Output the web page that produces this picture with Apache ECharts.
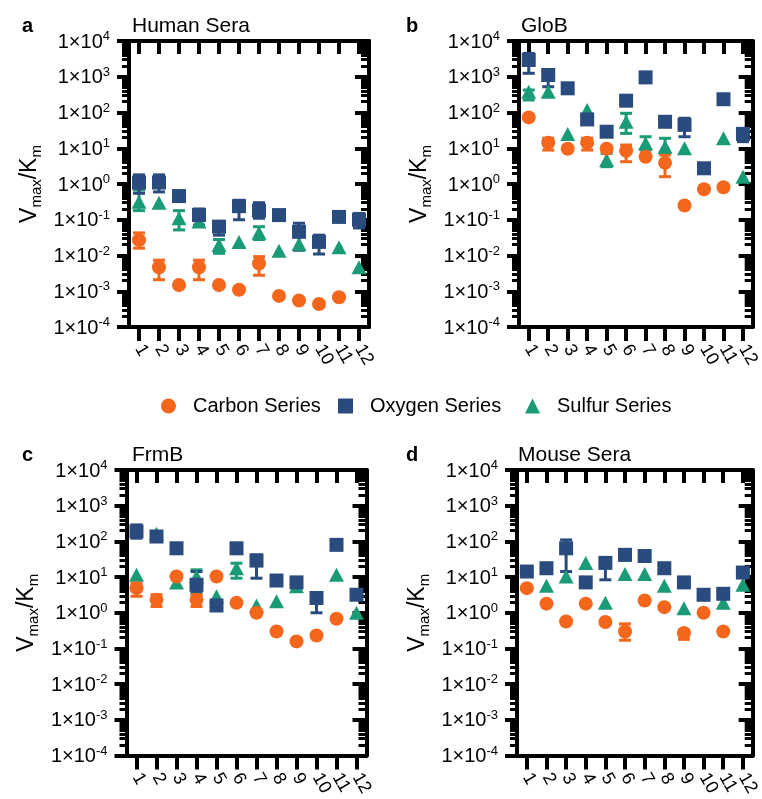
<!DOCTYPE html>
<html>
<head>
<meta charset="utf-8">
<script src="https://cdn.jsdelivr.net/npm/echarts@6/dist/echarts.min.js"></script>
<style>html,body{margin:0;padding:0;background:#fff}#c{width:762px;height:799px}</style>
</head>
<body>
<div id="c"></div>
<script>
// ---------------- DATA ----------------
const categories = [1, 2, 3, 4, 5, 6, 7, 8, 9, 10, 11, 12];
const xTickLabels = ['1', '2', '3', '4', '5', '6', '7', '8', '9', '10', '11', '12'];
const yExponents = [-4, -3, -2, -1, 0, 1, 2, 3, 4];
const seriesNames = ['Carbon Series', 'Oxygen Series', 'Sulfur Series'];
const panelLetters = ['a', 'b', 'c', 'd'];
const panelTitles = ['Human Sera', 'GloB', 'FrmB', 'Mouse Sera'];

// Human Sera
const humanCarbon = [0.027, 0.0047, 0.0015, 0.0047, 0.0015, 0.0011, 0.006, 0.00074, 0.00055, 0.00044, 0.00068, null];
const humanOxygen = [1.1, 1.1, 0.46, 0.135, 0.064, 0.24, 0.18, 0.135, 0.046, 0.024, 0.12, 0.1];
const humanSulfur = [0.32, 0.30, 0.11, 0.089, 0.0196, 0.024, 0.043, 0.0136, 0.021, null, 0.017, 0.0047];
const humanCarbonErr = [[1, 0.016, 0.043], [2, 0.0021, 0.0074], [4, 0.0021, 0.0074], [7, 0.0028, 0.0093]];
const humanOxygenErr = [[1, 0.55, 1.8], [2, 0.6, 1.8], [4, 0.071, 0.2], [5, 0.037, 0.09], [6, 0.1, 0.35], [7, 0.11, 0.3], [9, 0.014, 0.08], [10, 0.011, 0.037], [12, 0.059, 0.15]];
const humanSulfurErr = [[1, 0.18, 0.68], [3, 0.052, 0.18], [5, 0.0115, 0.028], [7, 0.028, 0.064]];

// GloB
const globCarbon = [73, 14.3, 9.7, 14.3, 9.7, 8.5, 5.8, 3.9, 0.25, 0.71, 0.81, null];
const globOxygen = [2950, 1120, 475, 64, 29, 214, 960, 55, 45, 2.75, 235, 25];
const globSulfur = [380, 380, 25, 117, 4.7, 55, 13.8, 11, 10, null, 19, 1.6];
const globCarbonErr = [[2, 8.9, 19], [4, 8.9, 19], [6, 4.2, 12.3], [8, 1.6, 6.5]];
const globOxygenErr = [[1, 1250, 4500], [2, 525, 1550], [9, 21, 69], [12, 15.3, 36]];
const globSulfurErr = [[1, 224, 426], [5, 3.05, 7.2], [6, 26, 95], [7, 8.9, 21], [8, 7.2, 19]];

// FrmB
const frmbCarbon = [4.9, 2.3, 10.4, 2.3, 10.4, 1.9, 1.0, 0.30, 0.158, 0.23, 0.68, null];
const frmbOxygen = [190, 137, 64, 6.1, 1.6, 64, 29, 8.0, 7.1, 2.6, 80, 3.2];
const frmbSulfur = [11.6, 165, 7.1, 10.4, 2.9, 17.7, 1.6, 2.1, 5.5, null, 11.6, 1.0];
const frmbCarbonErr = [[1, 2.9, 6.7], [2, 1.5, 3.2], [4, 1.5, 3.2]];
const frmbOxygenErr = [[1, 123, 290], [4, 4.0, 14.3], [7, 9.3, 42], [10, 1.0, 3.5]];
const frmbSulfurErr = [[4, 3.5, 16], [6, 9.3, 24.5]];

// Mouse Sera
const mouseCarbon = [4.9, 1.8, 0.57, 1.8, 0.55, 0.30, 2.2, 1.44, 0.27, 1.0, 0.30, null];
const mouseOxygen = [14.3, 17.7, 64, 7.1, 25, 42, 39, 17.7, 7.1, 3.2, 3.4, 13.4];
const mouseSulfur = [null, 5.7, 10.4, 25, 1.9, 12.3, 12.3, 5.7, 1.35, null, 1.9, 6.1];
const mouseCarbonErr = [[6, 0.17, 0.49], [9, 0.18, 0.33]];
const mouseOxygenErr = [[3, 14.3, 110], [5, 8.4, 34], [6, 30, 48], [7, 28, 45]];
const mouseSulfurErr = [];

// ---------------- STYLE / LAYOUT ----------------
const FONT = '"Liberation Sans", Arial, Helvetica, sans-serif';
const COLORS = ['#f3661c', '#294b7d', '#1a9b77'];
const SYMBOLS = ['circle', 'rect', 'triangle'];
const SYMBOL_SIZES = [14, 14, [15, 14]];
const gridBoxes = [[129, 41], [519, 41], [126.5, 470], [517, 470]];
const GRID_W = 240, GRID_H = 286;
const titleBoxes = [[17, 11, 127], [401, 11, 516], [17, 440, 127], [401, 440, 513]];

const panels = [
  { c: humanCarbon, o: humanOxygen, s: humanSulfur, ce: humanCarbonErr, oe: humanOxygenErr, se: humanSulfurErr },
  { c: globCarbon, o: globOxygen, s: globSulfur, ce: globCarbonErr, oe: globOxygenErr, se: globSulfurErr },
  { c: frmbCarbon, o: frmbOxygen, s: frmbSulfur, ce: frmbCarbonErr, oe: frmbOxygenErr, se: frmbSulfurErr },
  { c: mouseCarbon, o: mouseOxygen, s: mouseSulfur, ce: mouseCarbonErr, oe: mouseOxygenErr, se: mouseSulfurErr }
];

const minorExp = [];
for (let e = yExponents[0]; e < yExponents[yExponents.length - 1]; e++) {
  for (let m = 2; m <= 9; m++) minorExp.push(e + Math.log10(m));
}

function toPoints(vals) {
  const out = [];
  vals.forEach((v, k) => { if (v != null) out.push([xTickLabels[k], v]); });
  return out;
}
function toErr(errs) {
  return errs.map(e => [xTickLabels[categories.indexOf(e[0])], e[1], e[2]]);
}

function errRenderer(color) {
  return function (params, api) {
    const x = api.value(0), lo = api.value(1), hi = api.value(2);
    const p1 = api.coord([x, lo]);
    const p2 = api.coord([x, hi]);
    const hw = 6;
    const st = { stroke: color, lineWidth: 3 };
    return {
      type: 'group',
      children: [
        { type: 'line', shape: { x1: p1[0], y1: p1[1], x2: p2[0], y2: p2[1] }, style: st },
        { type: 'line', shape: { x1: p1[0] - hw, y1: p1[1], x2: p1[0] + hw, y2: p1[1] }, style: st },
        { type: 'line', shape: { x1: p2[0] - hw, y1: p2[1], x2: p2[0] + hw, y2: p2[1] }, style: st }
      ]
    };
  };
}

const grid = [], xAxis = [], yAxis = [], series = [], title = [];

panels.forEach((p, i) => {
  grid.push({ left: gridBoxes[i][0], top: gridBoxes[i][1], width: GRID_W, height: GRID_H });

  title.push({ text: panelLetters[i], left: titleBoxes[i][0], top: titleBoxes[i][1],
    textStyle: { fontFamily: FONT, fontSize: 20, fontWeight: 'bold', color: '#000' } });
  title.push({ text: panelTitles[i], left: titleBoxes[i][2], top: titleBoxes[i][1],
    textStyle: { fontFamily: FONT, fontSize: 21, fontWeight: 'normal', color: '#000' } });

  const lineSt = { color: '#000', width: 4 };
  // bottom x axis
  xAxis.push({
    gridIndex: i, type: 'category', position: 'bottom', data: xTickLabels, boundaryGap: true,
    axisLine: { show: true, onZero: false, lineStyle: lineSt },
    axisTick: { show: true, alignWithLabel: true, interval: 0, length: 14, lineStyle: { color: '#000', width: 4 } },
    axisLabel: { show: true, interval: 0, rotate: -60, margin: 19,
      fontFamily: FONT, fontSize: 18, color: '#000' },
    splitLine: { show: false }
  });
  // top x axis (frame)
  xAxis.push({
    gridIndex: i, type: 'category', position: 'top', data: xTickLabels, boundaryGap: true,
    axisLine: { show: true, onZero: false, lineStyle: lineSt },
    axisTick: { show: true, inside: true, alignWithLabel: true, interval: 0, length: 13, lineStyle: { color: '#000', width: 4 } },
    axisLabel: { show: false },
    splitLine: { show: false }
  });

  // left major (data axis)
  yAxis.push({
    gridIndex: i, type: 'log', logBase: 10, min: 1e-4, max: 1e4, splitNumber: 8, position: 'left',
    axisLine: { show: true, onZero: false, lineStyle: lineSt },
    axisTick: { show: true, length: 12, lineStyle: { color: '#000', width: 4 } },
    minorTick: { show: false },
    axisLabel: {
      show: true, margin: 19,
      formatter: v => '{b|1×10}{s|' + Math.round(Math.log10(v)) + '}',
      rich: {
        b: { fontFamily: FONT, fontSize: 20, lineHeight: 22, color: '#000', verticalAlign: 'bottom' },
        s: { fontFamily: FONT, fontSize: 13, lineHeight: 13, color: '#000', verticalAlign: 'top' }
      }
    },
    splitLine: { show: false },
    name: '{n|V}{s|max}{n|/K}{s|m}',
    nameLocation: 'middle', nameGap: 85,
    nameTextStyle: {
      rich: {
        n: { fontFamily: FONT, fontSize: 23, lineHeight: 26, color: '#000', verticalAlign: 'top' },
        s: { fontFamily: FONT, fontSize: 15, lineHeight: 15, color: '#000', verticalAlign: 'bottom' }
      }
    }
  });
  // left minor ticks
  yAxis.push({
    gridIndex: i, type: 'value', min: -4, max: 4, position: 'left',
    axisLine: { show: false },
    axisTick: { show: true, customValues: minorExp, length: 7, lineStyle: { color: '#000', width: 3 } },
    axisLabel: { show: false }, splitLine: { show: false }
  });
  // right major
  yAxis.push({
    gridIndex: i, type: 'log', logBase: 10, min: 1e-4, max: 1e4, splitNumber: 8, position: 'right',
    axisLine: { show: true, onZero: false, lineStyle: lineSt },
    axisTick: { show: true, inside: true, length: 14, lineStyle: { color: '#000', width: 4 } },
    axisLabel: { show: false }, splitLine: { show: false }
  });
  // right minor
  yAxis.push({
    gridIndex: i, type: 'value', min: -4, max: 4, position: 'right',
    axisLine: { show: false },
    axisTick: { show: true, inside: true, customValues: minorExp, length: 8, lineStyle: { color: '#000', width: 3 } },
    axisLabel: { show: false }, splitLine: { show: false }
  });

  const xi = i * 2, yi = i * 4;
  const vals = [p.c, p.o, p.s];
  const errs = [p.ce, p.oe, p.se];
  // draw order: sulfur (bottom), carbon, oxygen (top)
  [2, 0, 1].forEach(k => {
    series.push({
      type: 'custom', name: seriesNames[k] + ' err', xAxisIndex: xi, yAxisIndex: yi,
      data: toErr(errs[k]), encode: { x: 0, y: [1, 2] },
      renderItem: errRenderer(COLORS[k]), silent: true, z: 2
    });
    series.push({
      type: 'scatter', name: seriesNames[k], xAxisIndex: xi, yAxisIndex: yi,
      data: toPoints(vals[k]), symbol: SYMBOLS[k], symbolSize: SYMBOL_SIZES[k],
      itemStyle: { color: COLORS[k], opacity: 1 }, z: 2
    });
  });
});

const legendLefts = [156, 333, 520];
const legend = seriesNames.map((n, k) => ({
  data: [{ name: n, icon: SYMBOLS[k] }],
  left: legendLefts[k], top: 391,
  itemWidth: 15, itemHeight: 15,
  textStyle: { fontFamily: FONT, fontSize: 20, color: '#000', padding: [0, 0, 0, 12] },
  selectedMode: false
}));

const chart = echarts.init(document.getElementById('c'));
chart.setOption({
  animation: false,
  backgroundColor: '#fff',
  title, legend, grid, xAxis, yAxis, series
});
</script>
</body>
</html>
